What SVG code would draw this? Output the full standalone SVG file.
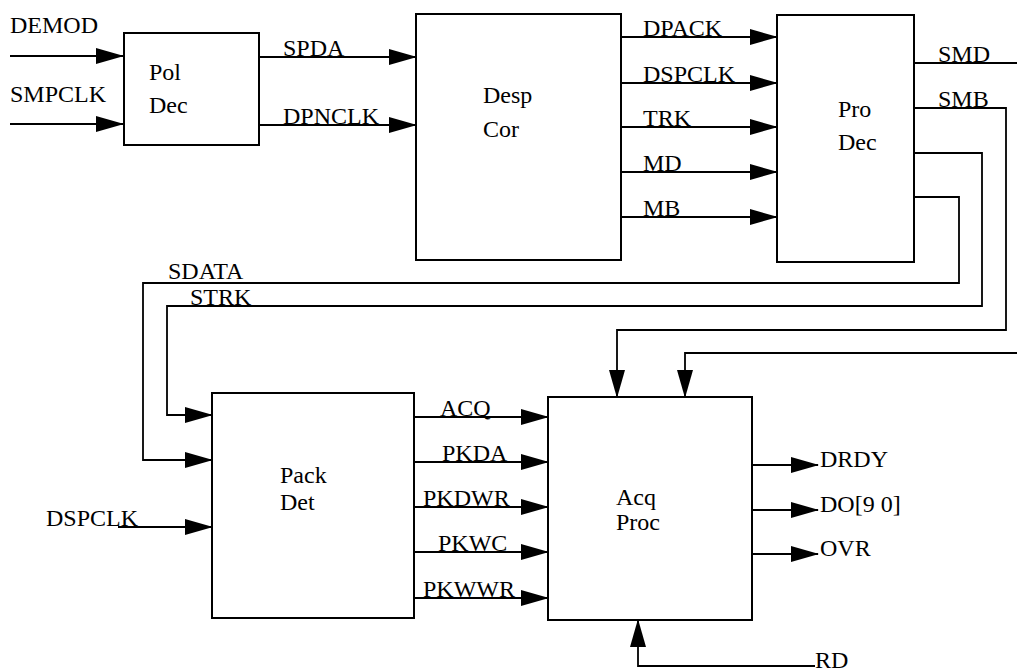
<svg xmlns="http://www.w3.org/2000/svg" width="1017" height="671" viewBox="0 0 1017 671">
<style>
.box{fill:#fff;stroke:#000;stroke-width:2}
.w{fill:none;stroke:#000;stroke-width:1.8}
text{font-family:"Liberation Serif","Times New Roman",serif;font-size:24px;fill:#000}
</style>
<defs>
<marker id="ah" markerUnits="userSpaceOnUse" markerWidth="28" markerHeight="16" refX="27" refY="8" orient="auto">
<path d="M0,0 L28,8 L0,16 Z" fill="#000"/>
</marker>
</defs>
<rect width="1017" height="671" fill="#fff"/>
<g id="connectors">
<path class="w" d="M10,56 H123" marker-end="url(#ah)"/>
<path class="w" d="M10,124 H123" marker-end="url(#ah)"/>
<path class="w" d="M259,57 H416" marker-end="url(#ah)"/>
<path class="w" d="M259,125 H416" marker-end="url(#ah)"/>
<path class="w" d="M621,37 H777" marker-end="url(#ah)"/>
<path class="w" d="M621,83 H777" marker-end="url(#ah)"/>
<path class="w" d="M621,127 H777" marker-end="url(#ah)"/>
<path class="w" d="M621,172 H777" marker-end="url(#ah)"/>
<path class="w" d="M621,217 H777" marker-end="url(#ah)"/>
<path class="w" d="M914,63 H1017"/>
<path class="w" d="M1017,353 H685 V397" marker-end="url(#ah)"/>
<path class="w" d="M914,108 H1006 V330 H617 V397" marker-end="url(#ah)"/>
<path class="w" d="M914,153 H982 V306 H167 V415 H212" marker-end="url(#ah)"/>
<path class="w" d="M914,197 H959 V283 H143 V460 H212" marker-end="url(#ah)"/>
<path class="w" d="M118,527 H212" marker-end="url(#ah)"/>
<path class="w" d="M414,417 H548" marker-end="url(#ah)"/>
<path class="w" d="M414,462 H548" marker-end="url(#ah)"/>
<path class="w" d="M414,507 H548" marker-end="url(#ah)"/>
<path class="w" d="M414,552 H548" marker-end="url(#ah)"/>
<path class="w" d="M414,598 H548" marker-end="url(#ah)"/>
<path class="w" d="M752,465 H818" marker-end="url(#ah)"/>
<path class="w" d="M752,510 H818" marker-end="url(#ah)"/>
<path class="w" d="M752,554 H818" marker-end="url(#ah)"/>
<path class="w" d="M815,666 H638 V620" marker-end="url(#ah)"/>
</g>
<g id="labels">
<text x="10" y="33">DEMOD</text>
<text x="10" y="102">SMPCLK</text>
<text x="283" y="56">SPDA</text>
<text x="283" y="124">DPNCLK</text>
<text x="643" y="36">DPACK</text>
<text x="643" y="82">DSPCLK</text>
<text x="643" y="126">TRK</text>
<text x="643" y="171">MD</text>
<text x="643" y="216">MB</text>
<text x="938" y="62">SMD</text>
<text x="938" y="107">SMB</text>
<text x="168" y="279">SDATA</text>
<text x="190" y="305">STRK</text>
<text x="46" y="526">DSPCLK</text>
<text x="440" y="416">ACQ</text>
<text x="442" y="461">PKDA</text>
<text x="423" y="506">PKDWR</text>
<text x="438" y="551">PKWC</text>
<text x="423" y="597">PKWWR</text>
<text x="820" y="467">DRDY</text>
<text x="820" y="512">DO[9 0]</text>
<text x="820" y="556">OVR</text>
<text x="815" y="668">RD</text>
</g>
<g id="pol-dec">
<rect class="box" x="124" y="33" width="135" height="112"/>
<text x="149" y="80">Pol</text>
<text x="149" y="113">Dec</text>
</g>
<g id="desp-cor">
<rect class="box" x="416" y="14" width="205" height="246"/>
<text x="483" y="103">Desp</text>
<text x="483" y="137">Cor</text>
</g>
<g id="pro-dec">
<rect class="box" x="777" y="15" width="137" height="247"/>
<text x="838" y="117">Pro</text>
<text x="838" y="150">Dec</text>
</g>
<g id="pack-det">
<rect class="box" x="212" y="393" width="202" height="225"/>
<text x="280" y="483">Pack</text>
<text x="280" y="510">Det</text>
</g>
<g id="acq-proc">
<rect class="box" x="548" y="397" width="204" height="223"/>
<text x="616" y="505">Acq</text>
<text x="616" y="530">Proc</text>
</g>
</svg>
